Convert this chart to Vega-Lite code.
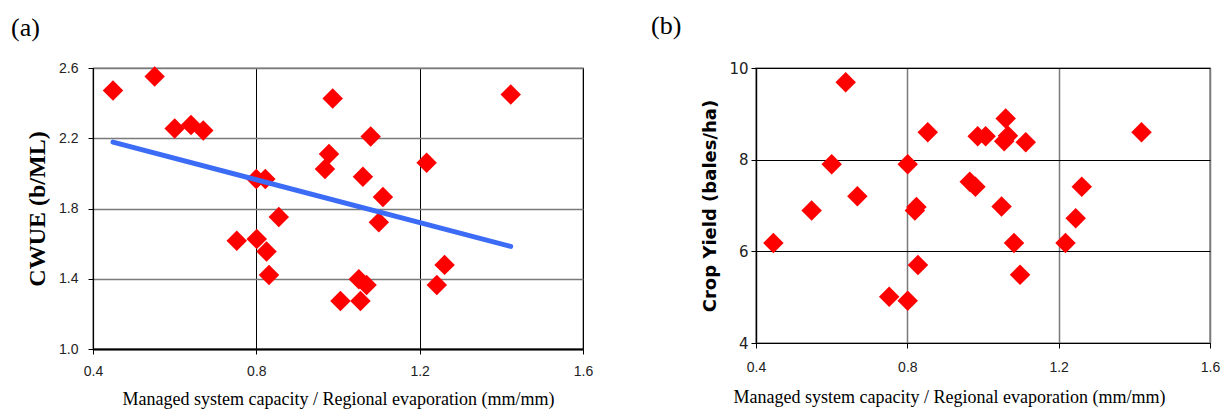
{
  "$schema": "https://vega.github.io/schema/vega-lite/v6.json",
  "background": "white",
  "padding": {"left": 10, "top": 12, "right": 0, "bottom": 4},
  "spacing": 56,
  "datasets": {
    "a": [
      {"x": 0.449, "y": 2.472}, {"x": 0.551, "y": 2.552}, {"x": 0.600, "y": 2.255},
      {"x": 0.640, "y": 2.275}, {"x": 0.670, "y": 2.244}, {"x": 0.752, "y": 1.616},
      {"x": 0.800, "y": 1.968}, {"x": 0.801, "y": 1.626}, {"x": 0.822, "y": 1.968},
      {"x": 0.825, "y": 1.555}, {"x": 0.831, "y": 1.422}, {"x": 0.855, "y": 1.751},
      {"x": 0.968, "y": 2.025}, {"x": 0.978, "y": 2.111}, {"x": 0.987, "y": 2.427},
      {"x": 1.006, "y": 1.274}, {"x": 1.051, "y": 1.397}, {"x": 1.055, "y": 1.274},
      {"x": 1.061, "y": 1.981}, {"x": 1.070, "y": 1.365}, {"x": 1.080, "y": 2.210},
      {"x": 1.100, "y": 1.721}, {"x": 1.110, "y": 1.865}, {"x": 1.217, "y": 2.061},
      {"x": 1.242, "y": 1.365}, {"x": 1.261, "y": 1.479}, {"x": 1.423, "y": 2.449}
    ],
    "trend": [
      {"x": 0.449, "y": 2.178}, {"x": 1.423, "y": 1.584}
    ],
    "b": [
      {"x": 0.446, "y": 6.18}, {"x": 0.547, "y": 6.89}, {"x": 0.600, "y": 7.90},
      {"x": 0.637, "y": 9.69}, {"x": 0.668, "y": 7.20}, {"x": 0.752, "y": 5.01},
      {"x": 0.801, "y": 7.90}, {"x": 0.801, "y": 4.92}, {"x": 0.820, "y": 6.89},
      {"x": 0.824, "y": 6.97}, {"x": 0.828, "y": 5.70}, {"x": 0.854, "y": 8.60},
      {"x": 0.965, "y": 7.52}, {"x": 0.980, "y": 7.41}, {"x": 0.986, "y": 8.51},
      {"x": 1.007, "y": 8.51}, {"x": 1.049, "y": 6.98}, {"x": 1.056, "y": 8.40},
      {"x": 1.060, "y": 8.90}, {"x": 1.066, "y": 8.52}, {"x": 1.082, "y": 6.18},
      {"x": 1.098, "y": 5.49}, {"x": 1.113, "y": 8.38}, {"x": 1.218, "y": 6.18},
      {"x": 1.245, "y": 6.72}, {"x": 1.261, "y": 7.41}, {"x": 1.419, "y": 8.60}
    ]
  },
  "config": {
    "axis": {
      "labelFont": "Liberation Sans",
      "labelFontSize": 14,
      "labelColor": "#222222",
      "labelFlush": false,
      "tickColor": "black",
      "domainColor": "black",
      "tickSize": 5,
      "titleColor": "black"
    },
    "title": {"font": "Liberation Serif", "fontSize": 26, "fontWeight": "normal", "color": "black", "anchor": "start", "frame": "group"}
  },
  "hconcat": [
    {
      "width": 490,
      "height": 281,
      "view": {"stroke": "black", "strokeWidth": 1.2},
      "title": {"text": "(a)", "dx": -82, "offset": 20},
      "layer": [
        {
          "data": {"name": "a"},
          "mark": {"type": "point", "shape": "diamond", "filled": true, "color": "#FF0000", "size": 420, "opacity": 1},
          "encoding": {
            "x": {
              "field": "x", "type": "quantitative",
              "scale": {"domain": [0.4, 1.6], "nice": false, "zero": false},
              "axis": {
                "values": [0.4, 0.8, 1.2, 1.6], "format": ".1f",
                "title": "Managed system capacity / Regional evaporation (mm/mm)",
                "titleFont": "Liberation Serif", "titleFontSize": 18, "titleFontWeight": "normal",
                "titlePadding": 12, "labelPadding": 10,
                "grid": true, "gridColor": "black", "gridWidth": 1,
                "domainWidth": 2
              }
            },
            "y": {
              "field": "y", "type": "quantitative",
              "scale": {"domain": [1.0, 2.6], "nice": false, "zero": false},
              "axis": {
                "values": [1.0, 1.4, 1.8, 2.2, 2.6], "format": ".1f",
                "title": "CWUE  (b/ML)",
                "titleFont": "Liberation Serif", "titleFontSize": 24, "titleFontWeight": "bold",
                "titlePadding": 9, "labelPadding": 10,
                "grid": true, "gridColor": "#7a7a7a", "gridWidth": 1.6,
                "domainWidth": 1.2
              }
            }
          }
        },
        {
          "data": {"name": "trend"},
          "mark": {"type": "line", "color": "#3C6CF5", "strokeWidth": 5, "strokeCap": "round"},
          "encoding": {
            "x": {"field": "x", "type": "quantitative"},
            "y": {"field": "y", "type": "quantitative"}
          }
        }
      ]
    },
    {
      "width": 454,
      "height": 275,
      "view": {"stroke": "#8a8a8a", "strokeWidth": 1.5},
      "title": {"text": "(b)", "dx": -105, "offset": 22},
      "data": {"name": "b"},
      "mark": {"type": "point", "shape": "diamond", "filled": true, "color": "#FF0000", "size": 420, "opacity": 1},
      "encoding": {
        "x": {
          "field": "x", "type": "quantitative",
          "scale": {"domain": [0.4, 1.6], "nice": false, "zero": false},
          "axis": {
            "values": [0.4, 0.8, 1.2, 1.6], "format": ".1f",
            "title": "Managed system capacity / Regional evaporation (mm/mm)",
            "titleFont": "Liberation Serif", "titleFontSize": 18, "titleFontWeight": "normal",
            "titlePadding": 14, "labelPadding": 12, "titleX": 193,
            "grid": true, "gridColor": "#7a7a7a", "gridWidth": 1.5,
            "domainWidth": 1.2
          }
        },
        "y": {
          "field": "y", "type": "quantitative",
          "scale": {"domain": [4, 10], "nice": false, "zero": false},
          "axis": {
            "values": [4, 6, 8, 10],
            "title": "Crop Yield (bales/ha)",
            "titleFont": "DejaVu Sans", "titleFontSize": 18, "titleFontWeight": "bold",
            "titlePadding": 9, "labelPadding": 3, "labelFontSize": 15, "labelFont": "DejaVu Sans",
            "grid": true, "gridColor": "black", "gridWidth": 1,
            "domainWidth": 1.2
          }
        }
      }
    }
  ]
}
